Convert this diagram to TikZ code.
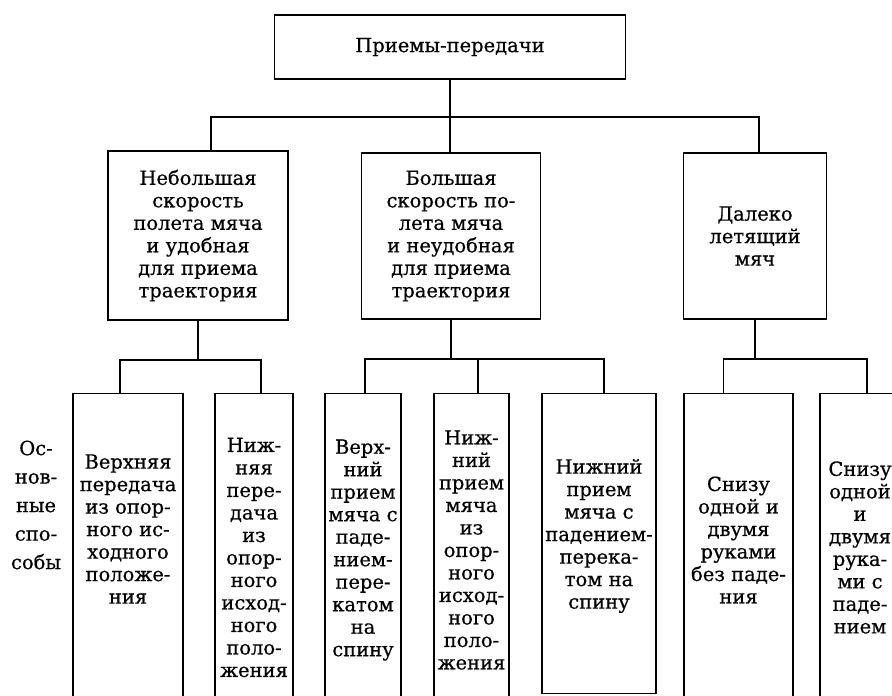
\documentclass[tikz,border=0pt]{standalone}
\usepackage{fontspec}
\setmainfont{DejaVu Serif}[FakeBold=0.6]
\usepackage{tikz}
\usetikzlibrary{calc, positioning}

\begin{document}
\begin{tikzpicture}[x=1pt, y=-1pt, line width=1.4pt,
    hop/.style={draw, line width=1.4pt, inner sep=0pt},
    txt/.style={align=center, inner sep=0pt, font=\fontsize{19.5}{22.5}\selectfont},
    col/.style={draw, line width=1.4pt, anchor=north, minimum height=340pt, inner sep=0pt}]
    \useasboundingbox (0,0) rectangle (892,696);
    \clip (0,0) rectangle (892,696);

    % 1. Верхний блок
    \node[hop, txt, minimum width=351pt, minimum height=64pt] (top) at (450,47) {Приемы-передачи};

    % 2. Блоки второго уровня
    \node[hop, txt, minimum width=180pt, minimum height=169pt] (l1) at (198,235.5)
        {Небольшая\\скорость\\полета мяча\\и удобная\\для приема\\траектория};
    \node[hop, txt, minimum width=179pt, minimum height=166pt] (l2) at (451,236)
        {Большая\\скорость по-\\лета мяча\\и неудобная\\для приема\\траектория};
    \node[hop, txt, minimum width=143pt, minimum height=166pt] (l3) at (755,236)
        {Далеко\\летящий\\мяч};

    % 3. Колонки нижнего уровня (низ обрезан)
    \node[col, minimum width=110pt] (a) at (128,393) {};
    \node[col, minimum width=78pt] (b) at (254,393) {};
    \node[col, minimum width=76pt] (c) at (363,393) {};
    \node[col, minimum width=75pt] (d) at (471.5,393) {};
    \node[col, minimum width=114pt, minimum height=300pt] (e) at (599,393) {};
    \node[col, minimum width=109pt] (f) at (738.5,393) {};
    \node[col, minimum width=80pt] (g) at (860,393) {};

    % Тексты в колонках
    \node[txt] (ta) at (128,529) {Верхняя\\передача\\из опор-\\ного ис-\\ходного\\положе-\\ния};
    \node[txt] (tb) at (254,557.5) {Ниж-\\няя\\пере-\\дача\\из\\опор-\\ного\\исход-\\ного\\поло-\\жения};
    \node[txt] (tc) at (363,550) {Верх-\\ний\\прием\\мяча с\\паде-\\нием-\\пере-\\катом\\на\\спину};
    \node[txt] (td) at (471.5,550) {Ниж-\\ний\\прием\\мяча\\из\\опор-\\ного\\исход-\\ного\\поло-\\жения};
    \node[txt] (te) at (599,536) {Нижний\\прием\\мяча с\\падением-\\перека-\\том на\\спину};
    \node[txt] (tf) at (738.5,540) {Снизу\\одной и\\двумя\\руками\\без паде-\\ния};
    \node[txt] (tg) at (860,547.5) {Снизу\\одной\\и\\двумя\\рука-\\ми с\\паде-\\нием};

    % Подпись слева
    \node[txt, font=\fontsize{19.5}{28.5}\selectfont] (sposoby) at (36,505) {Ос-\\нов-\\ные\\спо-\\собы};

    % 4. Соединительные линии
    \coordinate (j0) at (top.south |- 0,117);
    \draw (top.south) -- (top.south |- l2.north);
    \draw ([xshift=13pt]l1.north) |- ([xshift=4pt]l3.north |- j0) -- ([xshift=4pt]l3.north);

    \coordinate (j1) at (l1.south |- 0,360);
    \draw (l1.south) -- (j1);
    \draw ([xshift=-8pt]a.north) |- ([xshift=7pt]b.north |- j1) -- ([xshift=7pt]b.north);

    \coordinate (j2) at (l2.south |- 0,359);
    \draw (l2.south) -- (j2);
    \draw ([xshift=2pt]c.north) |- ([xshift=5pt]e.north |- j2) -- ([xshift=5pt]e.north);
    \draw ([xshift=6.5pt]d.north) -- ([xshift=6.5pt]d.north |- j2);

    \coordinate (j3) at (l3.south |- 0,359);
    \draw (l3.south) -- (j3);
    \draw ([xshift=-15pt]f.north) |- ([xshift=7pt]g.north |- j3) -- ([xshift=7pt]g.north);

\end{tikzpicture}
\end{document}
